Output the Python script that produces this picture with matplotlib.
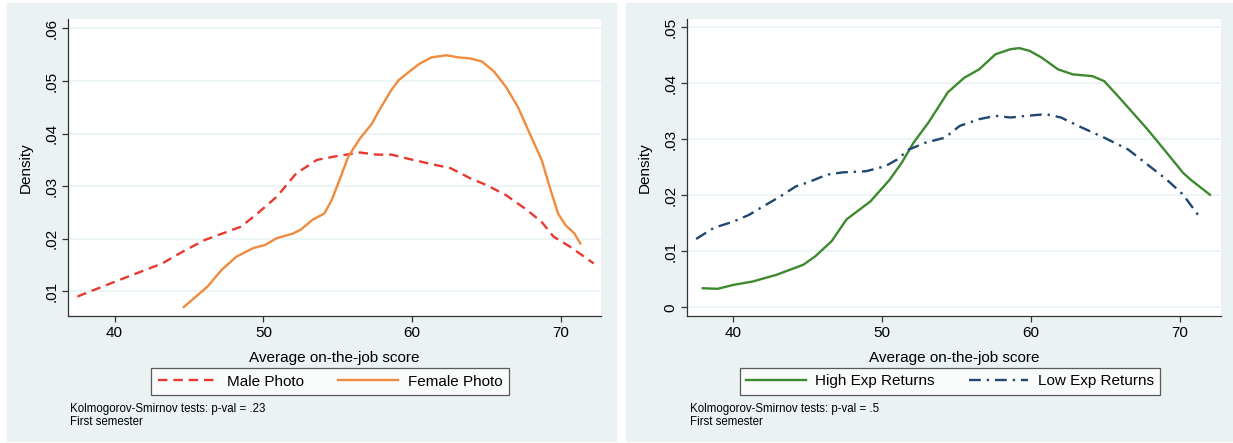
import matplotlib
matplotlib.use("Agg")
import matplotlib.pyplot as plt
from matplotlib.patches import Rectangle

plt.rcParams["font.family"] = ["Liberation Sans", "DejaVu Sans"]

# kernel density estimates, first semester
male_x = [37.5, 40.0, 43.2, 44.8, 46.1, 48.5, 49.6, 50.9, 52.2, 53.6, 54.9, 56.5,
          57.6, 58.6, 59.9, 61.3, 62.6, 63.9, 65.0, 66.3, 67.7, 68.7, 69.5, 70.6, 72.2]
male_y = [.0090, .0118, .0153, .0179, .0198, .0223, .0248, .0280, .0324, .0350, .0357, .0364,
          .0360, .0360, .0351, .0342, .0334, .0315, .0302, .0283, .0255, .0232, .0204, .0185, .0153]

female_x = [44.65, 46.25, 47.2, 48.2, 49.3, 50.1, 50.9, 52.0, 52.5, 53.3, 54.1, 54.6, 55.2,
            55.7, 56.5, 57.3, 57.8, 58.6, 59.1, 59.9, 60.5, 61.3, 62.3, 63.1, 63.9, 64.7,
            65.5, 66.3, 67.1, 67.9, 68.7, 69.3, 69.8, 70.3, 70.9, 71.3]
female_y = [.0070, .0109, .0141, .0166, .0182, .0188, .0201, .0210, .0217, .0236, .0248, .0274, .0318,
            .0356, .0391, .0419, .0445, .0483, .0502, .0520, .0533, .0545, .0549, .0545, .0543, .0537,
            .0518, .0489, .0451, .0400, .0350, .0293, .0248, .0226, .0210, .0191]

high_x = [37.95, 38.95, 40.0, 41.3, 42.9, 44.7, 45.5, 46.6, 47.6, 49.2, 50.5, 51.3, 52.1, 53.1,
          54.4, 55.5, 56.5, 57.6, 58.6, 59.2, 59.9, 60.7, 61.8, 62.8, 64.1, 64.9, 66.0, 67.0,
          67.8, 69.1, 70.2, 70.7, 72.0]
high_y = [.0034, .0033, .0040, .0046, .0058, .0076, .0091, .0118, .0157, .0189, .0228, .0258, .0294, .0330,
          .0384, .0410, .0425, .0452, .0461, .0463, .0458, .0446, .0425, .0416, .0413, .0404, .0372, .0342,
          .0318, .0276, .0240, .0228, .0201]

low_x = [37.5, 38.7, 40.0, 41.05, 41.8, 43.15, 44.2, 45.0, 46.3, 47.35, 48.9, 50.2, 51.0, 51.8,
         52.9, 54.2, 55.2, 56.5, 57.6, 58.6, 59.7, 61.0, 62.0, 63.4, 64.9, 66.5, 67.8, 69.1,
         70.2, 71.2]
low_y = [.0122, .0142, .0153, .0165, .0177, .0198, .0216, .0223, .0237, .0241, .0243, .0252, .0264, .0282,
         .0294, .0303, .0324, .0336, .0342, .0339, .0342, .0345, .0339, .0321, .0303, .0282, .0255, .0228,
         .0201, .0165]

left_yticks = [.01, .02, .03, .04, .05, .06]
left_ylabels = [".01", ".02", ".03", ".04", ".05", ".06"]
right_yticks = [0, .01, .02, .03, .04, .05]
right_ylabels = ["0", ".01", ".02", ".03", ".04", ".05"]
xticks = [40, 50, 60, 70]

W, H = 1233, 443
bg = "#eaf2f3"

fig = plt.figure(figsize=(W / 100, H / 100), dpi=100)


def box(x0, y0, x1, y1):
    return [x0 / W, 1 - y1 / H, (x1 - x0) / W, (y1 - y0) / H]


# grey-blue graph regions behind each panel
for x0, x1 in [(7, 616), (626, 1232)]:
    fig.patches.append(Rectangle((x0 / W, 1 - 441 / H), (x1 - x0) / W, 438 / H,
                                 transform=fig.transFigure, color=bg, zorder=-5))


def panel(rect, series, xlim, ylim, yticks, ylabels, leg_center, note_x, note):
    ax = fig.add_axes(box(*rect))
    for x, y, kw in series:
        ax.plot(x, y, **kw)
    ax.set_xlim(xlim)
    ax.set_ylim(ylim)
    ax.set_xticks(xticks)
    ax.set_yticks(yticks)
    ax.set_yticklabels(ylabels, rotation=90, va="center")
    ax.grid(axis="y", color=bg, lw=1.2)
    ax.set_axisbelow(True)
    for s in ["top", "right"]:
        ax.spines[s].set_visible(False)
    for s in ["left", "bottom"]:
        ax.spines[s].set_color("#333333")
        ax.spines[s].set_linewidth(0.9)
    ax.tick_params(length=4, width=0.9, color="#333333", labelsize=11, pad=3)
    ax.set_xlabel("Average on-the-job score", fontsize=11)
    ax.set_ylabel("Density", fontsize=11)
    ax.xaxis.set_label_coords(0.5, -0.118)
    ax.yaxis.set_label_coords(-0.066, 0.5)
    leg = ax.legend(loc="center", bbox_to_anchor=(leg_center / W, 1 - 381.5 / H),
                    bbox_transform=fig.transFigure, ncol=2, fontsize=11,
                    frameon=True, fancybox=False, edgecolor="#333333",
                    handlelength=3.9, handletextpad=0.65, columnspacing=2.2,
                    borderpad=0.42, borderaxespad=0)
    leg.get_frame().set_linewidth(0.9)
    fig.text(note_x / W, 1 - 409 / H, note, fontsize=8.3, va="center")
    fig.text(note_x / W, 1 - 422 / H, "First semester", fontsize=8.3, va="center")
    return ax


panel((68, 19, 601, 316),
      [(male_x, male_y, dict(color="#e8392f", lw=1.7, dashes=(4, 2.5), label="Male Photo")),
       (female_x, female_y, dict(color="#f08a3c", lw=1.7, label="Female Photo"))],
      (36.87, 72.69), (.0053, .0618), left_yticks, left_ylabels, 330, 70,
      "Kolmogorov-Smirnov tests: p-val = .23")

panel((687, 19, 1221, 316),
      [(high_x, high_y, dict(color="#3d8a2e", lw=1.7, label="High Exp Returns")),
       (low_x, low_y, dict(color="#1f4770", lw=1.7, dashes=(5, 2.5, 1, 2.5), label="Low Exp Returns"))],
      (36.89, 72.74), (-.00156, .0515), right_yticks, right_ylabels, 950, 690,
      "Kolmogorov-Smirnov tests: p-val = .5")

fig.savefig("out.png", dpi=100)
